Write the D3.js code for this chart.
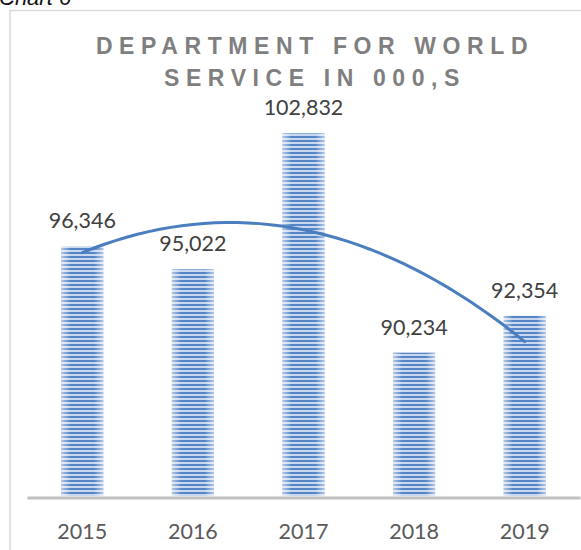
<!DOCTYPE html>
<html>
<head>
<meta charset="utf-8">
<script src="https://cdn.jsdelivr.net/npm/d3@7"></script>
<style>
  body { margin: 0; background: #fff; }
  svg { display: block; }
</style>
</head>
<body>
<div id="chart"></div>
<script>
// chart data
const years = ['2015', '2016', '2017', '2018', '2019'];
const values = [96346, 95022, 102832, 90234, 92354];
const titleLines = ['DEPARTMENT FOR WORLD', 'SERVICE IN 000,S'];
const yDomain = [82000, 104000];

const width = 581, height = 550;
const margin = { top: 113, right: 1, bottom: 54, left: 27 };

const svg = d3.select('#chart').append('svg')
    .attr('width', width)
    .attr('height', height);

const defs = svg.append('defs');

// horizontal stripe fill
const pat = defs.append('pattern')
    .attr('id', 'stripes')
    .attr('patternUnits', 'userSpaceOnUse')
    .attr('width', 8).attr('height', 4);
pat.append('rect').attr('width', 8).attr('height', 4).attr('fill', '#c9d8ee');
pat.append('rect').attr('y', 0).attr('width', 8).attr('height', 2).attr('fill', '#5585c6');

// lighter edges on bars
const grad = defs.append('linearGradient')
    .attr('id', 'edges')
    .attr('x1', '0%').attr('x2', '100%').attr('y1', '0%').attr('y2', '0%');
[[0, 0.55], [0.22, 0], [0.78, 0], [1, 0.55]].forEach(s => {
    grad.append('stop').attr('offset', s[0]).attr('stop-color', '#fff').attr('stop-opacity', s[1]);
});

// "Chart 6" caption cut at top
svg.append('text')
    .attr('x', -1).attr('y', 5)
    .attr('font-family', 'Liberation Sans, Arial, sans-serif')
    .attr('font-size', 22)
    .attr('font-style', 'italic')
    .attr('fill', '#111')
    .text('Chart 6');

// chart area frame
svg.append('rect')
    .attr('x', 10).attr('y', 10.5)
    .attr('width', 600).attr('height', 600)
    .attr('fill', 'none')
    .attr('stroke', '#d9d9d9')
    .attr('stroke-width', 1.5);

// title
svg.append('g').selectAll('text')
    .data(titleLines)
    .join('text')
    .attr('x', 315)
    .attr('y', (d, i) => 54 + i * 32)
    .attr('text-anchor', 'middle')
    .attr('font-family', 'Liberation Sans, Arial, sans-serif')
    .attr('font-size', 23)
    .attr('font-weight', 'bold')
    .attr('letter-spacing', 6.6)
    .attr('fill', '#7f7f7f')
    .text(d => d);

const x = d3.scaleBand()
    .domain(years)
    .range([margin.left, width - margin.right])
    .paddingInner(0.62)
    .paddingOuter(0.31);

const y = d3.scaleLinear()
    .domain(yDomain)
    .range([height - margin.bottom, margin.top]);

const base = height - margin.bottom;

// bars
const bars = svg.append('g');
bars.selectAll('rect.bar')
    .data(values)
    .join('rect')
    .attr('class', 'bar')
    .attr('x', (d, i) => x(years[i]))
    .attr('y', d => y(d))
    .attr('width', x.bandwidth())
    .attr('height', d => base - y(d))
    .attr('fill', 'url(#stripes)');
bars.selectAll('rect.shade')
    .data(values)
    .join('rect')
    .attr('class', 'shade')
    .attr('x', (d, i) => x(years[i]))
    .attr('y', d => y(d))
    .attr('width', x.bandwidth())
    .attr('height', d => base - y(d))
    .attr('fill', 'url(#edges)');

// x axis
const xAxis = svg.append('g')
    .attr('transform', `translate(0,${base + 1.5})`)
    .call(d3.axisBottom(x).tickSize(0).tickPadding(26));
xAxis.select('.domain').attr('stroke', '#bfbfbf').attr('stroke-width', 3);
xAxis.selectAll('text')
    .attr('font-family', 'Lato, sans-serif')
    .attr('font-size', 21.5)
    .attr('fill', '#595959');

// value labels
svg.append('g').selectAll('text')
    .data(values)
    .join('text')
    .attr('x', (d, i) => x(years[i]) + x.bandwidth() / 2)
    .attr('y', d => y(d) - 18)
    .attr('text-anchor', 'middle')
    .attr('font-family', 'Lato, sans-serif')
    .attr('font-size', 21.5)
    .attr('fill', '#404040')
    .text(d => d3.format(',')(d));

// polynomial (order 2) trendline, least squares over x = -2..2
const ts = values.map((d, i) => i - (values.length - 1) / 2);
const n = values.length;
const st2 = d3.sum(ts, t => t * t), st4 = d3.sum(ts, t => t ** 4);
const sy = d3.sum(values), sty = d3.sum(values, (d, i) => ts[i] * d);
const st2y = d3.sum(values, (d, i) => ts[i] ** 2 * d);
const c = (n * st2y - st2 * sy) / (n * st4 - st2 * st2);
const a = (sy - c * st2) / n;
const b = sty / st2;

const step = x.step();
const x0 = x(years[0]) + x.bandwidth() / 2;
const trend = d3.range(0, 41).map(k => {
    const t = ts[0] + k * (ts[n - 1] - ts[0]) / 40;
    return [x0 + (t - ts[0]) * step, a + b * t + c * t * t];
});

svg.append('path')
    .datum(trend)
    .attr('fill', 'none')
    .attr('stroke', '#4a7ebf')
    .attr('stroke-width', 3)
    .attr('stroke-linecap', 'round')
    .attr('d', d3.line().x(d => d[0]).y(d => y(d[1])));
</script>
</body>
</html>
